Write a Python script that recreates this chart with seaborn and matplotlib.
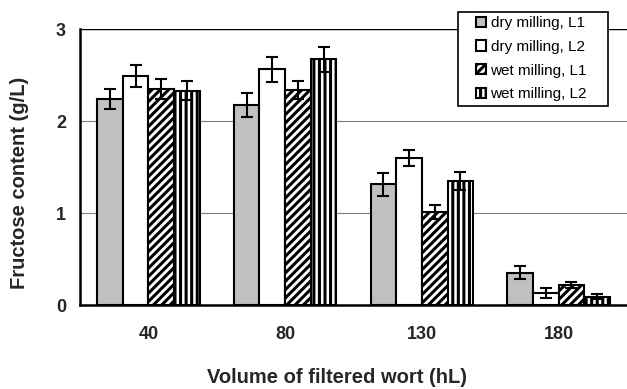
import matplotlib
matplotlib.use("Agg")
import matplotlib.pyplot as plt
import matplotlib.patches as mpatches
import seaborn as sns
import pandas as pd
import numpy as np

volumes = ["40", "80", "130", "180"]
series = ["dry milling, L1", "dry milling, L2", "wet milling, L1", "wet milling, L2"]
dry_l1 = [2.24, 2.17, 1.31, 0.35]
dry_l2 = [2.49, 2.56, 1.60, 0.13]
wet_l1 = [2.35, 2.34, 1.01, 0.22]
wet_l2 = [2.33, 2.67, 1.35, 0.09]
err_dry_l1 = [0.11, 0.13, 0.125, 0.07]
err_dry_l2 = [0.12, 0.135, 0.09, 0.05]
err_wet_l1 = [0.11, 0.10, 0.08, 0.03]
err_wet_l2 = [0.10, 0.135, 0.095, 0.03]

values = [dry_l1, dry_l2, wet_l1, wet_l2]
errors = [err_dry_l1, err_dry_l2, err_wet_l1, err_wet_l2]

rows = []
for s, vals, errs in zip(series, values, errors):
    for v, val, e in zip(volumes, vals, errs):
        rows.append({"volume": v, "series": s, "value": val, "err": e})
df = pd.DataFrame(rows)

sns.set_style("white")
plt.rcParams["font.family"] = ["Liberation Sans", "DejaVu Sans"]
plt.rcParams["hatch.linewidth"] = 2.2

W, H = 627, 389
fig = plt.figure(figsize=(W / 100, H / 100), dpi=100)
ax = fig.add_axes([80 / W, 1 - 305 / H, 1 - 80 / W, 276 / H])

palette = {"dry milling, L1": "#c0c0c0", "dry milling, L2": "white",
           "wet milling, L1": "white", "wet milling, L2": "white"}
sns.barplot(data=df, x="volume", y="value", hue="series", order=volumes,
            hue_order=series, palette=palette, width=0.75, gap=0,
            edgecolor="black", linewidth=1.5, errorbar=None, ax=ax, legend=False)

hatches = [None, None, "////", "|||"]
for cont, h, errs in zip(ax.containers, hatches, errors):
    xs = []
    hs = []
    for p in cont.patches:
        if h:
            p.set_hatch(h)
        xs.append(p.get_x() + p.get_width() / 2)
        hs.append(p.get_height())
    ax.errorbar(xs, hs, yerr=errs, fmt="none", ecolor="black", elinewidth=1.5,
                capsize=4.5, capthick=1.5, zorder=5)

ax.set_ylim(0, 3)
ax.set_xlim(-0.5, 3.5)
ax.set_yticks([0, 1, 2, 3])
ax.set_yticklabels(["0", "1", "2", "3"], fontsize=13, fontweight="bold")
ax.yaxis.grid(True, color="#808080", linewidth=0.8)
ax.set_axisbelow(True)

ax.set_xticks([-0.5, 0.5, 1.5, 2.5])
ax.set_xticklabels([])
ax.set_xticks([0, 1, 2, 3], minor=True)
ax.set_xticklabels(volumes, minor=True, fontsize=13, fontweight="bold")
ax.tick_params(axis="x", which="minor", length=0, pad=15)
ax.tick_params(axis="x", which="major", length=6, width=1.5, direction="out", color="black")
ax.tick_params(axis="y", length=5, width=1.5, direction="out", color="black", pad=5)

for side in ["top", "right"]:
    ax.spines[side].set_visible(False)
for side in ["left", "bottom"]:
    ax.spines[side].set_color("black")
    ax.spines[side].set_linewidth(1.8)
ax.axhline(3, color="black", linewidth=1.0, zorder=1)

ax.set_xlabel("Volume of filtered wort (hL)", fontsize=14.5, fontweight="bold")
ax.set_ylabel("Fructose content (g/L)", fontsize=14.5, fontweight="bold")
ax.xaxis.set_label_coords((337 - 80) / 547, (305 - 368) / 276)
ax.yaxis.set_label_coords((29 - 80) / 547, (305 - 183) / 276)

# legend frame drawn as its own box
frame = mpatches.Rectangle((458 / W, 1 - 106 / H), 150 / W, 94 / H,
                           transform=fig.transFigure, facecolor="white",
                           edgecolor="black", linewidth=1.2, zorder=5)
fig.add_artist(frame)
leg = fig.legend(ax.containers, series, loc="upper left",
                 bbox_to_anchor=(476 / W, 1 - 16 / H), bbox_transform=fig.transFigure,
                 fontsize=11, frameon=False, handlelength=0.65, handleheight=0.65,
                 handletextpad=0.3, labelspacing=0.64, borderpad=0, borderaxespad=0)
leg.set_zorder(6)
for t in leg.get_texts():
    t.set_color("black")

fig.savefig("out.png", dpi=100)
